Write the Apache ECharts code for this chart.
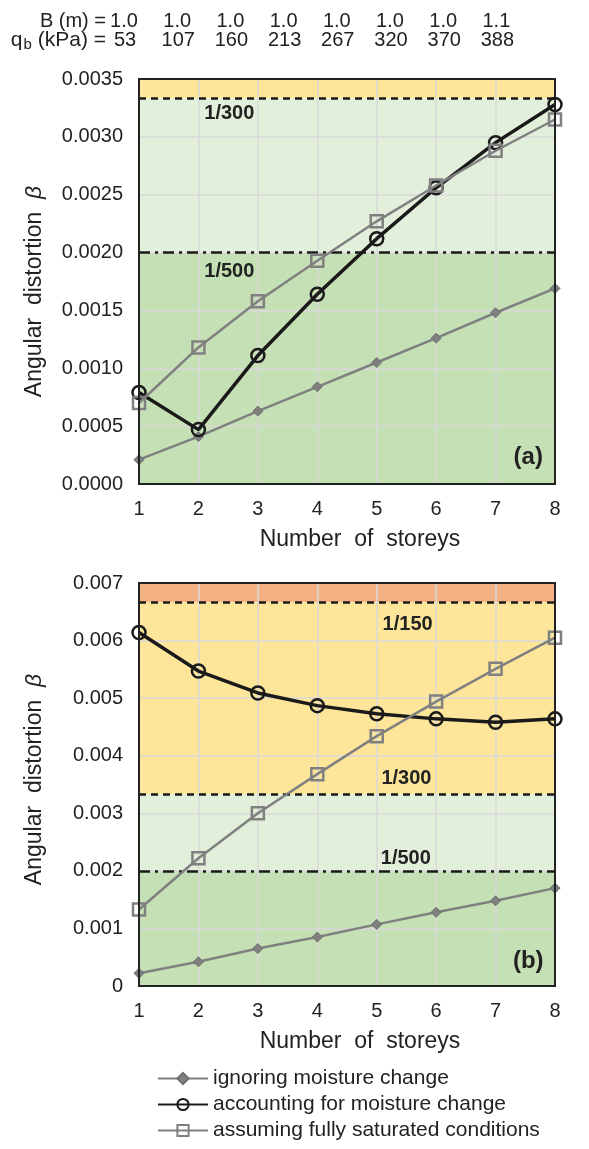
<!DOCTYPE html>
<html>
<head>
<meta charset="utf-8">
<script src="https://cdn.jsdelivr.net/npm/echarts@6/dist/echarts.min.js"></script>
<style>
html,body{margin:0;padding:0;background:#fff;}
#c{width:589px;height:1149px;}
</style>
</head>
<body>
<div id="c"></div>
<script>
const storeys = [1, 2, 3, 4, 5, 6, 7, 8];
const widthB = ['1.0', '1.0', '1.0', '1.0', '1.0', '1.0', '1.0', '1.1'];
const pressureQb = ['53', '107', '160', '213', '267', '320', '370', '388'];

const aIgnoring   = [0.00021, 0.00041, 0.00063, 0.00084, 0.00105, 0.00126, 0.00148, 0.00169];
const aAccounting = [0.00079, 0.00047, 0.00111, 0.00164, 0.00212, 0.00256, 0.00295, 0.00328];
const aSaturated  = [0.00070, 0.00118, 0.00158, 0.00193, 0.00227, 0.00258, 0.00288, 0.00315];

const bIgnoring   = [0.00022, 0.00042, 0.00065, 0.00085, 0.00107, 0.00128, 0.00148, 0.00170];
const bAccounting = [0.00614, 0.00547, 0.00509, 0.00487, 0.00473, 0.00464, 0.00458, 0.00464];
const bSaturated  = [0.00133, 0.00222, 0.00300, 0.00368, 0.00434, 0.00494, 0.00551, 0.00605];

const limitValues = [1 / 500, 1 / 300, 1 / 150];
const limitLabels = ['1/500', '1/300', '1/150'];
const seriesNames = ['ignoring moisture change', 'accounting for moisture change', 'assuming fully saturated conditions'];

const FONT = 'Liberation Sans, Arial, sans-serif';
const GRAY = '#808080';
const DARK = '#1a1a1a';
const C_GREEN = '#c5e0b4';
const C_LGREEN = '#e2efda';
const C_YELLOW = '#fde699';
const C_ORANGE = '#f4b183';

function pairs(vals) { return storeys.map((s, i) => [s, vals[i]]); }

function dataSeries(idx, ign, acc, sat) {
  return [
    {
      name: seriesNames[0], type: 'line', xAxisIndex: idx, yAxisIndex: idx, z: 5,
      data: pairs(ign), symbol: 'diamond', symbolSize: 10,
      lineStyle: { color: GRAY, width: 2.5 },
      itemStyle: { color: GRAY, borderColor: '#6f6f6f', borderWidth: 1 }
    },
    {
      name: seriesNames[1], type: 'line', xAxisIndex: idx, yAxisIndex: idx, z: 6,
      data: pairs(acc), symbol: 'circle', symbolSize: 13,
      lineStyle: { color: DARK, width: 3.5 },
      itemStyle: { color: 'rgba(0,0,0,0)', borderColor: DARK, borderWidth: 2.5 }
    },
    {
      name: seriesNames[2], type: 'line', xAxisIndex: idx, yAxisIndex: idx, z: 7,
      data: pairs(sat), symbol: 'rect', symbolSize: 12,
      lineStyle: { color: GRAY, width: 2.5 },
      itemStyle: { color: 'rgba(0,0,0,0)', borderColor: GRAY, borderWidth: 2.5 }
    }
  ];
}

function zoneSeries(idx, zones) {
  return {
    type: 'line', xAxisIndex: idx, yAxisIndex: idx, data: [], z: 1, silent: true,
    markArea: {
      silent: true,
      data: zones.map(z => [
        { xAxis: 1, yAxis: z[0], itemStyle: { color: z[2] } },
        { xAxis: 8, yAxis: z[1] }
      ])
    }
  };
}

function limitSeries(idx, lines, labels) {
  return {
    type: 'line', xAxisIndex: idx, yAxisIndex: idx, data: [], z: 4, silent: true,
    markLine: {
      silent: true, symbol: ['none', 'none'], animation: false,
      label: { show: false },
      data: lines.map(l => [
        { coord: [1, l.v], lineStyle: { color: DARK, width: 2.5, type: l.dash, opacity: 1 } },
        { coord: [8, l.v] }
      ])
    },
    markPoint: {
      silent: true, symbol: 'circle', symbolSize: 1,
      itemStyle: { color: 'rgba(0,0,0,0)' },
      label: { show: true, position: 'inside', color: '#222', fontFamily: FONT, fontWeight: 'bold', fontSize: 20 },
      data: labels.map(t => ({
        coord: [t.x, t.y],
        label: { formatter: t.text, fontSize: t.size || 20 }
      }))
    }
  };
}

const DASH = [7, 5];
const DASHDOT = [11, 5, 3, 5];

const commonX = (idx) => ({
  type: 'value', gridIndex: idx, min: 1, max: 8, interval: 1,
  name: 'Number  of  storeys', nameLocation: 'middle', nameGap: 44,
  nameTextStyle: { fontFamily: FONT, fontSize: 23, color: '#222', padding: [0, 0, 0, 26] },
  axisLine: { show: true, lineStyle: { color: '#333', width: 2 } },
  axisTick: { show: false },
  axisLabel: { fontFamily: FONT, fontSize: 20, color: '#222', margin: 15 },
  splitLine: { show: true, lineStyle: { color: '#d9d9d9', width: 1.5 } },
  z: 3
});

const commonY = (idx, max, interval, fmt, pad) => ({
  type: 'value', gridIndex: idx, min: 0, max: max, interval: interval,
  name: 'Angular  distortion  {i|β}', nameLocation: 'middle', nameGap: 93, nameRotate: 90,
  nameTextStyle: { fontFamily: FONT, fontSize: 23, color: '#222', padding: pad, rich: { i: { fontStyle: 'italic', fontFamily: FONT, fontSize: 23, color: '#222' } } },
  axisLine: { show: true, lineStyle: { color: '#333', width: 2 } },
  axisTick: { show: false },
  axisLabel: { fontFamily: FONT, fontSize: 20, color: '#222', margin: 16, formatter: fmt },
  splitLine: { show: true, lineStyle: { color: '#d9d9d9', width: 1.5 } },
  z: 3
});

const headerGraphics = [];
headerGraphics.push({
  type: 'text', x: 106, y: 21,
  style: { text: 'B (m) =', fontFamily: FONT, fontSize: 20, fill: '#222', textAlign: 'right', textVerticalAlign: 'middle' }
});
headerGraphics.push({
  type: 'text', x: 106, y: 40,
  style: {
    text: '{n|q}{s|b}{n| (kPa) =}', fontFamily: FONT, fontSize: 20, fill: '#222', textAlign: 'right', textVerticalAlign: 'middle',
    rich: {
      n: { fontFamily: FONT, fontSize: 21, fill: '#222', lineHeight: 24 },
      s: { fontFamily: FONT, fontSize: 15, fill: '#222', lineHeight: 12, verticalAlign: 'bottom', padding: [0, 0, 0, 1] }
    }
  }
});
widthB.forEach((b, i) => {
  headerGraphics.push({
    type: 'text', x: 124 + i * 53.2, y: 21,
    style: { text: b, fontFamily: FONT, fontSize: 20, fill: '#222', textAlign: 'center', textVerticalAlign: 'middle' }
  });
});
pressureQb.forEach((q, i) => {
  headerGraphics.push({
    type: 'text', x: 125 + i * 53.2, y: 40,
    style: { text: q, fontFamily: FONT, fontSize: 20, fill: '#222', textAlign: 'center', textVerticalAlign: 'middle' }
  });
});

const option = {
  animation: false,
  backgroundColor: '#fff',
  textStyle: { fontFamily: FONT },
  graphic: headerGraphics,
  grid: [
    { left: 139, right: 34, top: 79, height: 405, show: true, z: 10, backgroundColor: 'rgba(0,0,0,0)', borderColor: '#222', borderWidth: 2 },
    { left: 139, right: 34, top: 583, height: 403, show: true, z: 10, backgroundColor: 'rgba(0,0,0,0)', borderColor: '#222', borderWidth: 2 }
  ],
  xAxis: [commonX(0), commonX(1)],
  yAxis: [
    commonY(0, 0.0035, 0.0005, v => v.toFixed(4), [0, 20, 0, 0]),
    commonY(1, 0.007, 0.001, v => (v === 0 ? '0' : v.toFixed(3)), [0, 0, 0, 10])
  ],
  legend: {
    orient: 'vertical', left: 152, top: 1063, itemWidth: 50, itemHeight: 14, itemGap: 5,
    selectedMode: false,
    textStyle: { fontFamily: FONT, fontSize: 21, color: '#222' },
    data: seriesNames
  },
  series: [
    zoneSeries(0, [
      [0, limitValues[0], C_GREEN],
      [limitValues[0], limitValues[1], C_LGREEN],
      [limitValues[1], 0.0035, C_YELLOW]
    ]),
    zoneSeries(1, [
      [0, limitValues[0], C_GREEN],
      [limitValues[0], limitValues[1], C_LGREEN],
      [limitValues[1], limitValues[2], C_YELLOW],
      [limitValues[2], 0.007, C_ORANGE]
    ]),
    limitSeries(0,
      [{ v: limitValues[1], dash: DASH }, { v: limitValues[0], dash: DASHDOT }],
      [
        { x: 2.52, y: 0.00320, text: limitLabels[1] },
        { x: 2.52, y: 0.00184, text: limitLabels[0] },
        { x: 7.55, y: 0.00023, text: '(a)', size: 24 }
      ]),
    limitSeries(1,
      [{ v: limitValues[2], dash: DASH }, { v: limitValues[1], dash: DASH }, { v: limitValues[0], dash: DASHDOT }],
      [
        { x: 5.52, y: 0.00628, text: limitLabels[2] },
        { x: 5.50, y: 0.00361, text: limitLabels[1] },
        { x: 5.49, y: 0.00222, text: limitLabels[0] },
        { x: 7.55, y: 0.00043, text: '(b)', size: 24 }
      ]),
    ...dataSeries(0, aIgnoring, aAccounting, aSaturated),
    ...dataSeries(1, bIgnoring, bAccounting, bSaturated)
  ]
};

const chart = echarts.init(document.getElementById('c'), null, { renderer: 'canvas' });
chart.setOption(option);
</script>
</body>
</html>
